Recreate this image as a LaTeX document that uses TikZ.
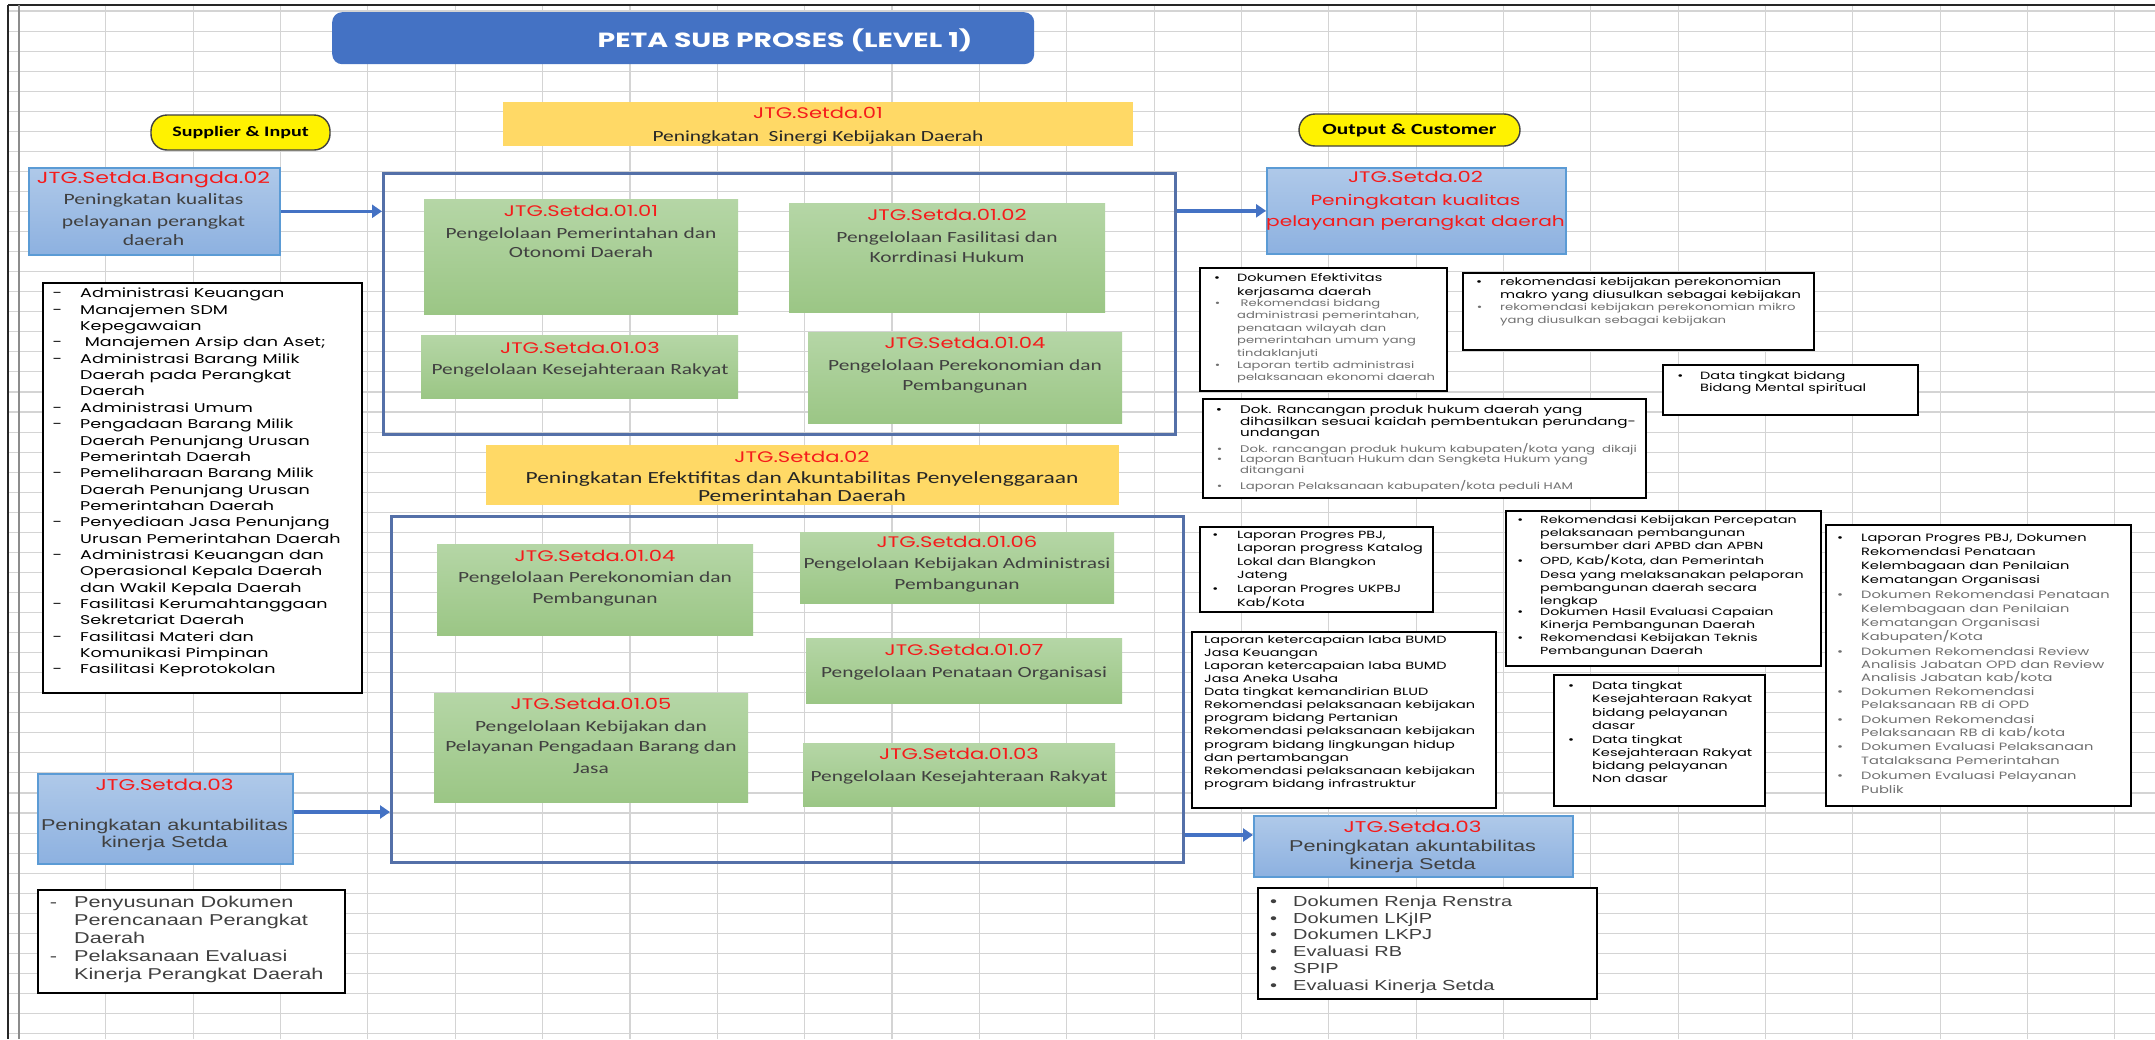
\documentclass[tikz,border=0pt]{standalone}
\usepackage{fontspec}
\usetikzlibrary{arrows.meta}
\newfontfamily\gothic[FakeStretch=1.38]{Poppins}
\newfontfamily\calib[FakeStretch=1.38]{Carlito}
\newfontfamily\arialf[FakeStretch=1.38]{Liberation Sans}
\newcommand\fsz[2]{\fontsize{#1pt}{#2pt}\selectfont}
\definecolor{gridc}{HTML}{D4D4D4}
\definecolor{titlec}{HTML}{4472C4}
\definecolor{orangec}{HTML}{FFD966}
\definecolor{greenT}{HTML}{B5D6A6}
\definecolor{greenB}{HTML}{9BC685}
\definecolor{blueT}{HTML}{AFC9E9}
\definecolor{blueB}{HTML}{8DB1E0}
\definecolor{blueE}{HTML}{5B9BD5}
\definecolor{contc}{HTML}{5470A8}
\definecolor{arrc}{HTML}{4472C4}
\definecolor{redc}{HTML}{F51B1B}
\definecolor{darkt}{HTML}{404040}
\definecolor{grayt}{HTML}{707070}
\tikzset{
 gridline/.style={draw=gridc, line width=1.1pt},
 greenbox/.style={anchor=north west, inner sep=0, top color=greenT, bottom color=greenB, draw=none},
 bluebox/.style={anchor=north west, inner sep=0, top color=blueT, bottom color=blueB, draw=blueE, line width=1.6pt},
 orangebox/.style={anchor=north west, inner sep=0, fill=orangec},
 groupbox/.style={anchor=north west, inner sep=0, draw=contc, line width=2.6pt},
 listbox/.style={anchor=north west, inner sep=0, draw=black, fill=white, line width=2.2pt},
 pill/.style={inner sep=0, fill=yellow, draw=black!75, line width=1.4pt, rounded corners=16pt},
 flow/.style={draw=arrc, line width=3.4pt, -{Triangle[length=10pt,width=13pt]}},
 redlbl/.style={anchor=base, inner sep=0, text=redc, font=\gothic\fsz{15.3}{18}},
 boxtxt/.style={anchor=base, inner sep=0, text=darkt, font=\calib\fsz{15.5}{18}},
 ariatxt/.style={anchor=base, inner sep=0, text=darkt, font=\arialf\fsz{15.7}{18}},
 listtxt/.style={anchor=north west, inner sep=0, align=left},
}
\begin{document}
\begin{tikzpicture}[x=1pt,y=-1pt]
\useasboundingbox (0,0) rectangle (2155,1039);
\fill[white] (0,0) rectangle (2155,1039);
% spreadsheet grid
\foreach \i in {0,...,24} \draw[gridline] (18.5+87.35*\i,5) -- (18.5+87.35*\i,1039);
\foreach \j in {0,...,51} \draw[gridline] (8,11+20.05*\j) -- (2155,11+20.05*\j);
\draw[black!85, line width=2.2pt] (8,5) -- (2155,5);
\draw[black!85, line width=2.2pt] (8,5) -- (8,1039);
\draw[black!45, line width=1.2pt] (19,5) -- (19,1039);

% title
\node[anchor=north west, inner sep=0, fill=titlec, rounded corners=10pt, minimum width=702pt, minimum height=52pt] (title) at (332,12) {};
\node[anchor=base, inner sep=0, text=white, font=\gothic\bfseries\fsz{20.5}{22}] (titletxt) at (785,47) {PETA SUB PROSES (LEVEL 1)};

% pills
\node[pill, minimum width=179pt, minimum height=35pt, font=\calib\bfseries\fsz{14.5}{16}] (supp) at (240.5,132.5) {Supplier \& Input};
\node[pill, minimum width=221pt, minimum height=32pt, font=\calib\bfseries\fsz{15.5}{16}] (outc) at (1409.5,130) {Output \& Customer};

% orange 01
\node[orangebox, minimum width=630pt, minimum height=44pt] (o1) at (503,102) {};
\node[redlbl] (o1a) at (818,118.5) {JTG.Setda.01};
\node[boxtxt, text=black!85] (o1b) at (818,141.7) {Peningkatan\ \ Sinergi Kebijakan Daerah};

% container 1
\node[groupbox, minimum width=792pt, minimum height=261pt] (c1) at (382,172) {};
\node[greenbox, minimum width=314pt, minimum height=115pt] (g11) at (424,199) {};
\node[redlbl] (g11a) at (581,216.5) {JTG.Setda.01.01};
\node[boxtxt] (g11b) at (581,238.7) {Pengelolaan Pemerintahan dan};
\node[boxtxt] (g11c) at (581,257.7) {Otonomi Daerah};
\node[greenbox, minimum width=316pt, minimum height=109pt] (g12) at (789,203) {};
\node[redlbl] (g12a) at (947,220.5) {JTG.Setda.01.02};
\node[boxtxt] (g12b) at (947,242.7) {Pengelolaan Fasilitasi dan};
\node[boxtxt] (g12c) at (947,262.7) {Korrdinasi Hukum};
\node[greenbox, minimum width=317pt, minimum height=63pt] (g13) at (421,335) {};
\node[redlbl] (g13a) at (580,353.5) {JTG.Setda.01.03};
\node[boxtxt] (g13b) at (580,374.7) {Pengelolaan Kesejahteraan Rakyat};
\node[greenbox, minimum width=314pt, minimum height=91pt] (g14) at (808,332) {};
\node[redlbl] (g14a) at (965,348.5) {JTG.Setda.01.04};
\node[boxtxt] (g14b) at (965,370.7) {Pengelolaan Perekonomian dan};
\node[boxtxt] (g14c) at (965,390.7) {Pembangunan};

% orange 02
\node[orangebox, minimum width=633pt, minimum height=60pt] (o2) at (486,445) {};
\node[redlbl] (o2a) at (802,462.5) {JTG.Setda.02};
\node[boxtxt, text=black!85, font=\calib\fsz{17}{18}] (o2b) at (802,483.2) {Peningkatan Efektifitas dan Akuntabilitas Penyelenggaraan};
\node[boxtxt, text=black!85, font=\calib\fsz{17}{18}] (o2c) at (802,501.2) {Pemerintahan Daerah};

% container 2
\node[groupbox, minimum width=792pt, minimum height=346pt] (c2) at (390,515) {};
\node[greenbox, minimum width=316pt, minimum height=91pt] (g24) at (437,544) {};
\node[redlbl] (g24a) at (595,561.5) {JTG.Setda.01.04};
\node[boxtxt] (g24b) at (595,582.7) {Pengelolaan Perekonomian dan};
\node[boxtxt] (g24c) at (595,603.7) {Pembangunan};
\node[greenbox, minimum width=314pt, minimum height=71pt] (g26) at (800,532) {};
\node[redlbl] (g26a) at (957,547.5) {JTG.Setda.01.06};
\node[boxtxt] (g26b) at (957,568.7) {Pengelolaan Kebijakan Administrasi};
\node[boxtxt] (g26c) at (957,589.7) {Pembangunan};
\node[greenbox, minimum width=316pt, minimum height=65pt] (g27) at (806,638) {};
\node[redlbl] (g27a) at (964,655.5) {JTG.Setda.01.07};
\node[boxtxt] (g27b) at (964,677.7) {Pengelolaan Penataan Organisasi};
\node[greenbox, minimum width=314pt, minimum height=109pt] (g25) at (434,693) {};
\node[redlbl] (g25a) at (591,709.5) {JTG.Setda.01.05};
\node[boxtxt] (g25b) at (591,731.7) {Pengelolaan Kebijakan dan};
\node[boxtxt] (g25c) at (591,751.7) {Pelayanan Pengadaan Barang dan};
\node[boxtxt] (g25d) at (591,773.7) {Jasa};
\node[greenbox, minimum width=312pt, minimum height=63pt] (g23) at (803,743) {};
\node[redlbl] (g23a) at (959,759.5) {JTG.Setda.01.03};
\node[boxtxt] (g23b) at (959,781.7) {Pengelolaan Kesejahteraan Rakyat};

% supplier boxes
\node[bluebox, minimum width=251pt, minimum height=87pt] (bangda) at (28,167) {};
\node[redlbl, font=\gothic\fsz{16}{18}] (bangdaa) at (153.5,183.5) {JTG.Setda.Bangda.02};
\node[boxtxt, font=\calib\fsz{15.7}{18}] (bangdab) at (153.5,204) {Peningkatan kualitas};
\node[boxtxt, font=\calib\fsz{15.7}{18}] (bangdac) at (153.5,226.4) {pelayanan perangkat};
\node[boxtxt, font=\calib\fsz{15.7}{18}] (bangdad) at (153.5,245.4) {daerah};

\node[bluebox, minimum width=255pt, minimum height=90pt] (s03) at (37,773) {};
\node[redlbl, font=\gothic\fsz{15.6}{18}] (s03a) at (164.5,790.5) {JTG.Setda.03};
\node[ariatxt] (s03b) at (164.5,830.7) {Peningkatan akuntabilitas};
\node[ariatxt] (s03c) at (164.5,847.7) {kinerja Setda};

% output boxes
\node[bluebox, minimum width=299pt, minimum height=86pt] (out02) at (1266,167) {};
\node[redlbl] (out02a) at (1415.5,182.5) {JTG.Setda.02};
\node[redlbl, font=\gothic\fsz{14.6}{18}] (out02b) at (1415.5,205) {Peningkatan kualitas};
\node[redlbl, font=\gothic\fsz{14.6}{18}] (out02c) at (1415.5,226) {pelayanan perangkat daerah};

\node[bluebox, minimum width=319pt, minimum height=61pt] (out03) at (1253,815) {};
\node[redlbl, font=\gothic\fsz{15.6}{18}] (out03a) at (1412.5,832.5) {JTG.Setda.03};
\node[ariatxt] (out03b) at (1412.5,851.7) {Peningkatan akuntabilitas};
\node[ariatxt] (out03c) at (1412.5,869.7) {kinerja Setda};

% arrows
\coordinate (a3) at (292,812);
\coordinate (a4) at (1182,835);
\draw[flow] (bangda.east) -- (bangda.east -| c1.west);
\draw[flow] (c1.east |- out02.west) -- (out02.west);
\draw[flow] (s03.east |- a3) -- (c2.west |- a3);
\draw[flow] (c2.east |- a4) -- (out03.west |- a4);

% left list
\node[listbox, minimum width=319pt, minimum height=410pt] (la) at (42,282) {};
\node[listtxt, font=\gothic\fsz{12.7}{16.35}] (lat) at (80,288) {%
\llap{-\hspace{18pt}}Administrasi Keuangan\\
\llap{-\hspace{18pt}}Manajemen SDM\\
Kepegawaian\\
\llap{-\hspace{18pt}}\ Manajemen Arsip dan Aset;\\
\llap{-\hspace{18pt}}Administrasi Barang Milik\\
Daerah pada Perangkat\\
Daerah\\
\llap{-\hspace{18pt}}Administrasi Umum\\
\llap{-\hspace{18pt}}Pengadaan Barang Milik\\
Daerah Penunjang Urusan\\
Pemerintah Daerah\\
\llap{-\hspace{18pt}}Pemeliharaan Barang Milik\\
Daerah Penunjang Urusan\\
Pemerintahan Daerah\\
\llap{-\hspace{18pt}}Penyediaan Jasa Penunjang\\
Urusan Pemerintahan Daerah\\
\llap{-\hspace{18pt}}Administrasi Keuangan dan\\
Operasional Kepala Daerah\\
dan Wakil Kepala Daerah\\
\llap{-\hspace{18pt}}Fasilitasi Kerumahtanggaan\\
Sekretariat Daerah\\
\llap{-\hspace{18pt}}Fasilitasi Materi dan\\
Komunikasi Pimpinan\\
\llap{-\hspace{18pt}}Fasilitasi Keprotokolan};

\node[listbox, minimum width=307pt, minimum height=103pt] (lb) at (37,889) {};
\node[listtxt, text=darkt, font=\arialf\fsz{15.7}{18}] (lbt) at (74,896) {%
\llap{-\hspace{17pt}}Penyusunan Dokumen\\
Perencanaan Perangkat\\
Daerah\\
\llap{-\hspace{17pt}}Pelaksanaan Evaluasi\\
Kinerja Perangkat Daerah};

% right lists
\node[listbox, minimum width=247pt, minimum height=123pt] (ra) at (1199,267) {};
\node[listtxt, font=\gothic\fsz{10.5}{14}] (ra1) at (1237,273) {\llap{•\hspace{17pt}}Dokumen Efektivitas\\kerjasama daerah};
\node[listtxt, text=grayt, font=\gothic\fsz{9.5}{12.4}] (ra2) at (1237,299) {\llap{•\hspace{17pt}}\ Rekomendasi bidang\\administrasi pemerintahan,\\penataan wilayah dan\\pemerintahan umum yang\\tindaklanjuti};
\node[listtxt, text=grayt, font=\gothic\fsz{9.5}{12}] (ra3) at (1237,361) {\llap{•\hspace{17pt}}Laporan tertib administrasi\\pelaksanaan ekonomi daerah};

\node[listbox, minimum width=351pt, minimum height=77pt] (rb) at (1462,272) {};
\node[listtxt, font=\gothic\fsz{10.6}{13}] (rb1) at (1500,277) {\llap{•\hspace{18pt}}rekomendasi kebijakan perekonomian\\makro yang diusulkan sebagai kebijakan};
\node[listtxt, text=grayt, font=\gothic\fsz{9.6}{13}] (rb2) at (1500,303) {\llap{•\hspace{18pt}}rekomendasi kebijakan perekonomian mikro\\yang diusulkan sebagai kebijakan};

\node[listbox, minimum width=255pt, minimum height=50pt] (rc) at (1662,364) {};
\node[listtxt, font=\gothic\fsz{10.5}{12.5}] (rc1) at (1700,371) {\llap{•\hspace{17pt}}Data tingkat bidang\\Bidang Mental spiritual};

\node[listbox, minimum width=443pt, minimum height=99pt] (rd) at (1202,398) {};
\node[listtxt, font=\gothic\fsz{11}{11.7}] (rd1) at (1240,405) {\llap{•\hspace{18pt}}Dok. Rancangan produk hukum daerah yang\\dihasilkan sesuai kaidah pembentukan perundang-\\undangan};
\node[listtxt, text=grayt, font=\gothic\fsz{9.6}{11.5}] (rd2) at (1240,443) {\llap{•\hspace{18pt}}Dok. rancangan produk hukum kabupaten/kota yang\ \ dikaji};
\node[listtxt, text=grayt, font=\gothic\fsz{9.6}{11.5}] (rd3) at (1240,455) {\llap{•\hspace{18pt}}Laporan Bantuan Hukum dan Sengketa Hukum yang\\ditangani};
\node[listtxt, text=grayt, font=\gothic\fsz{9.6}{11.5}] (rd4) at (1240,480) {\llap{•\hspace{18pt}}Laporan Pelaksanaan kabupaten/kota peduli HAM};

\node[listbox, minimum width=233pt, minimum height=85pt] (re) at (1199,526) {};
\node[listtxt, font=\gothic\fsz{10.4}{13.3}] (re1) at (1237,531) {\llap{•\hspace{19pt}}Laporan Progres PBJ,\\Laporan progress Katalog\\Lokal dan Blangkon\\Jateng};
\node[listtxt, font=\gothic\fsz{10.4}{12}] (re2) at (1237,585) {\llap{•\hspace{19pt}}Laporan Progres UKPBJ\\Kab/Kota};

\node[listbox, minimum width=304pt, minimum height=176pt] (rf) at (1191,631) {};
\node[listtxt, font=\gothic\fsz{10.5}{13.1}] (rf1) at (1204,635) {Laporan ketercapaian laba BUMD\\Jasa Keuangan\\Laporan ketercapaian laba BUMD\\Jasa Aneka Usaha\\Data tingkat kemandirian BLUD\\Rekomendasi pelaksanaan kebijakan\\program bidang Pertanian\\Rekomendasi pelaksanaan kebijakan\\program bidang lingkungan hidup\\dan pertambangan\\Rekomendasi pelaksanaan kebijakan\\program bidang infrastruktur};

\node[listbox, minimum width=315pt, minimum height=155pt] (rg) at (1505,510) {};
\node[listtxt, font=\gothic\fsz{10.3}{13}] (rg1) at (1540,515) {\llap{•\hspace{17pt}}Rekomendasi Kebijakan Percepatan\\pelaksanaan pembangunan\\bersumber dari APBD dan APBN};
\node[listtxt, font=\gothic\fsz{10.3}{13.3}] (rg2) at (1540,555) {\llap{•\hspace{17pt}}OPD, Kab/Kota, dan Pemerintah\\Desa yang melaksanakan pelaporan\\pembangunan daerah secara\\lengkap};
\node[listtxt, font=\gothic\fsz{10.3}{13}] (rg3) at (1540,607) {\llap{•\hspace{17pt}}Dokumen Hasil Evaluasi Capaian\\Kinerja Pembangunan Daerah};
\node[listtxt, font=\gothic\fsz{10.3}{13.5}] (rg4) at (1540,633) {\llap{•\hspace{17pt}}Rekomendasi Kebijakan Teknis\\Pembangunan Daerah};

\node[listbox, minimum width=211pt, minimum height=131pt] (rh) at (1553,674) {};
\node[listtxt, font=\gothic\fsz{10.6}{13.4}] (rh1) at (1592,681) {\llap{•\hspace{18pt}}Data tingkat\\Kesejahteraan Rakyat\\bidang pelayanan\\dasar};
\node[listtxt, font=\gothic\fsz{10.6}{13}] (rh2) at (1592,735) {\llap{•\hspace{18pt}}Data tingkat\\Kesejahteraan Rakyat\\bidang pelayanan\\Non dasar};

\node[listbox, minimum width=305pt, minimum height=281pt] (ri) at (1825,524) {};
\node[listtxt, font=\gothic\fsz{10.6}{14.3}] (ri1) at (1861,533) {\llap{•\hspace{18pt}}Laporan Progres PBJ, Dokumen\\Rekomendasi Penataan\\Kelembagaan dan Penilaian\\Kematangan Organisasi};
\node[listtxt, text=grayt, font=\gothic\fsz{10.6}{14}] (ri2) at (1861,590) {\llap{•\hspace{18pt}}Dokumen Rekomendasi Penataan\\Kelembagaan dan Penilaian\\Kematangan Organisasi\\Kabupaten/Kota};
\node[listtxt, text=grayt, font=\gothic\fsz{10.6}{13.2}] (ri3) at (1861,647) {\llap{•\hspace{18pt}}Dokumen Rekomendasi Review\\Analisis Jabatan OPD dan Review\\Analisis Jabatan kab/kota};
\node[listtxt, text=grayt, font=\gothic\fsz{10.6}{13.5}] (ri4) at (1861,687) {\llap{•\hspace{18pt}}Dokumen Rekomendasi\\Pelaksanaan RB di OPD};
\node[listtxt, text=grayt, font=\gothic\fsz{10.6}{13.5}] (ri5) at (1861,715) {\llap{•\hspace{18pt}}Dokumen Rekomendasi\\Pelaksanaan RB di kab/kota};
\node[listtxt, text=grayt, font=\gothic\fsz{10.6}{14.5}] (ri6) at (1861,742) {\llap{•\hspace{18pt}}Dokumen Evaluasi Pelaksanaan\\Tatalaksana Pemerintahan};
\node[listtxt, text=grayt, font=\gothic\fsz{10.6}{14}] (ri7) at (1861,771) {\llap{•\hspace{18pt}}Dokumen Evaluasi Pelayanan\\Publik};

\node[listbox, minimum width=339pt, minimum height=111pt] (rj) at (1257,887) {};
\node[listtxt, text=darkt, font=\arialf\fsz{14.5}{16.8}] (rjt) at (1293,895.5) {%
\llap{•\hspace{16pt}}Dokumen Renja Renstra\\
\llap{•\hspace{16pt}}Dokumen LKjIP\\
\llap{•\hspace{16pt}}Dokumen LKPJ\\
\llap{•\hspace{16pt}}Evaluasi RB\\
\llap{•\hspace{16pt}}SPIP\\
\llap{•\hspace{16pt}}Evaluasi Kinerja Setda};
\end{tikzpicture}
\end{document}
